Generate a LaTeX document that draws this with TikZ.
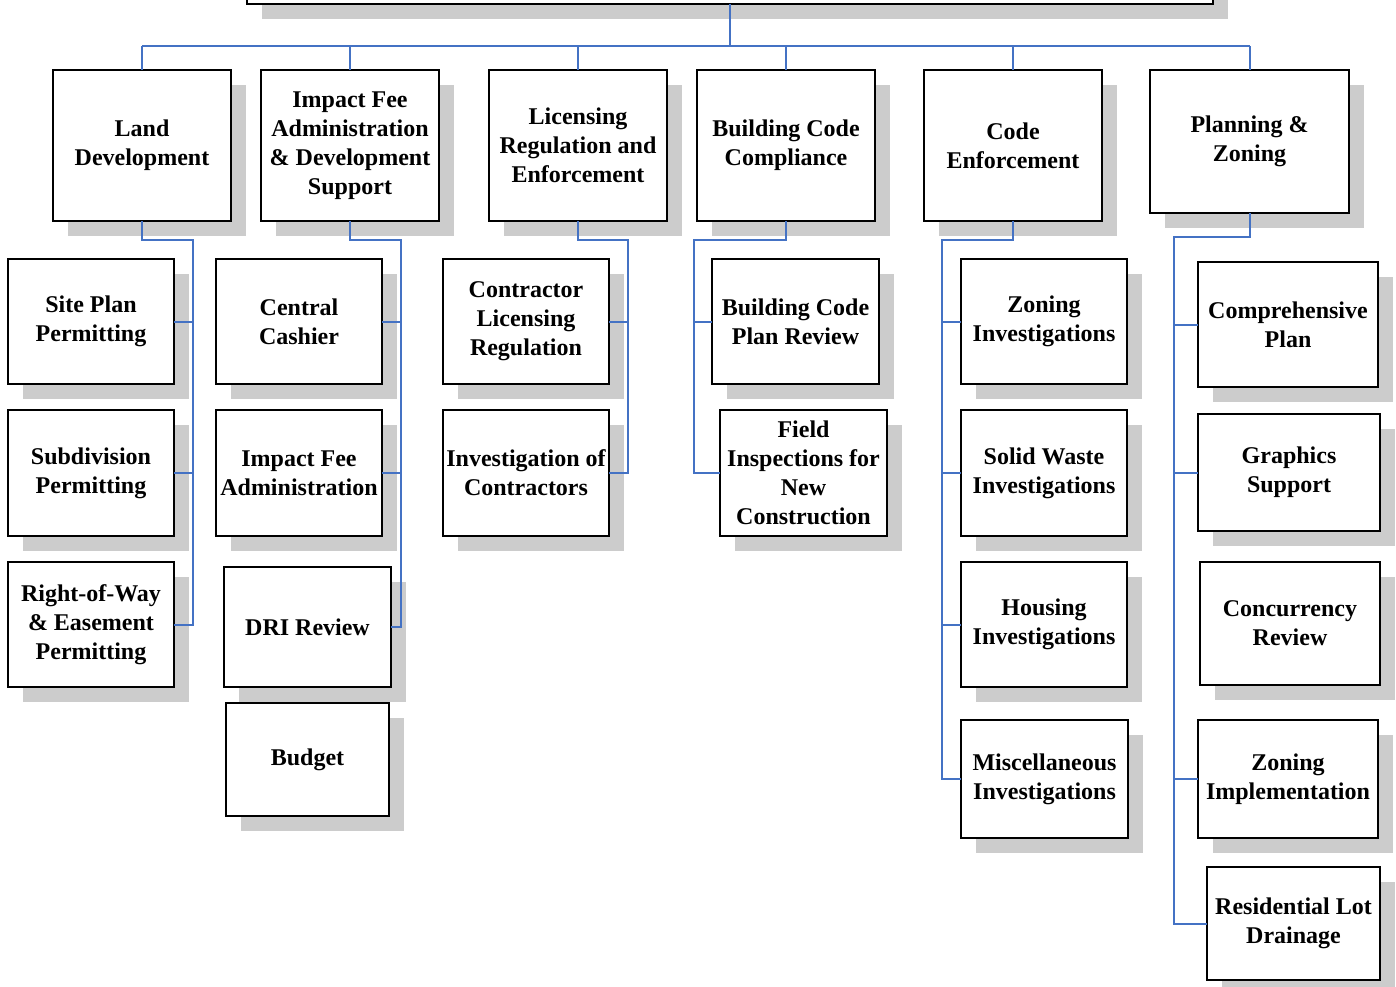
\documentclass[tikz,border=0pt]{standalone}
\usepackage{fontspec}
\setmainfont{Liberation Serif}
\usetikzlibrary{shadows}
\definecolor{linkblue}{HTML}{4472C4}
\definecolor{shadowgray}{HTML}{CCCCCC}
\begin{document}
\begin{tikzpicture}[x=1pt,y=-1pt,
  box/.style={draw=black, line width=1.8pt, fill=white, inner sep=0pt, outer sep=0pt,
    align=center, font=\fontsize{24}{29}\selectfont\bfseries,
    drop shadow={shadow xshift=15pt, shadow yshift=-15pt, fill=shadowgray, opacity=1}},
  link/.style={draw=linkblue, line width=2pt}]
\useasboundingbox (0,0) rectangle (1396,986);
\clip (0,0) rectangle (1396,986);
% top box
\node[box, minimum width=966pt, minimum height=64pt] (top) at (730,-28) {};
% level 1
\node[box, minimum width=178pt, minimum height=151pt] (ld)  at (142,145.5)  {Land\\Development};
\node[box, minimum width=178pt, minimum height=151pt] (ifa) at (350,145.5)  {Impact Fee\\Administration\\\& Development\\Support};
\node[box, minimum width=178pt, minimum height=151pt] (lre) at (578,145.5)  {Licensing\\Regulation and\\Enforcement};
\node[box, minimum width=178pt, minimum height=151pt] (bcc) at (786,145.5)  {Building Code\\Compliance};
\node[box, minimum width=178pt, minimum height=151pt] (ce)  at (1013,145.5) {Code\\Enforcement};
\node[box, minimum width=199pt, minimum height=143pt] (pz)  at (1249.5,141.5) {Planning \&\\Zoning};
% Land Development children
\node[box, minimum width=166pt, minimum height=125pt] (sp) at (91,321.5) {Site Plan\\Permitting};
\node[box, minimum width=166pt, minimum height=126pt] (sd) at (91,473) {Subdivision\\Permitting};
\node[box, minimum width=166pt, minimum height=125pt] (rw) at (91,624.5) {Right-of-Way\\\& Easement\\Permitting};
% Impact Fee children
\node[box, minimum width=166pt, minimum height=125pt] (cc)   at (299,321.5) {Central\\Cashier};
\node[box, minimum width=166pt, minimum height=126pt] (ifad) at (299,473) {Impact Fee\\Administration};
\node[box, minimum width=167pt, minimum height=120pt] (dri)  at (307.5,627) {DRI Review};
\node[box, minimum width=163pt, minimum height=113pt] (bud)  at (307.5,759.5) {Budget};
% Licensing children
\node[box, minimum width=166pt, minimum height=125pt] (cl) at (526,321.5) {Contractor\\Licensing\\Regulation};
\node[box, minimum width=166pt, minimum height=126pt] (ic) at (526,473) {Investigation of\\Contractors};
% Building Code children
\node[box, minimum width=167pt, minimum height=125pt] (bpr) at (795.5,321.5) {Building Code\\Plan Review};
\node[box, minimum width=167pt, minimum height=126pt] (fi)  at (803.5,473) {Field\\Inspections for\\New\\Construction};
% Code Enforcement children
\node[box, minimum width=166pt, minimum height=125pt] (zi) at (1044,321.5) {Zoning\\Investigations};
\node[box, minimum width=166pt, minimum height=126pt] (sw) at (1044,473) {Solid Waste\\Investigations};
\node[box, minimum width=166pt, minimum height=125pt] (hi) at (1044,624.5) {Housing\\Investigations};
\node[box, minimum width=167pt, minimum height=118pt] (mi) at (1044.5,779) {Miscellaneous\\Investigations};
% Planning children
\node[box, minimum width=180pt, minimum height=125pt] (cp)  at (1288,324.5) {Comprehensive\\Plan};
\node[box, minimum width=182pt, minimum height=117pt] (gs)  at (1289,472.5) {Graphics\\Support};
\node[box, minimum width=180pt, minimum height=123pt] (cr)  at (1290,623.5) {Concurrency\\Review};
\node[box, minimum width=180pt, minimum height=118pt] (zim) at (1288,779) {Zoning\\Implementation};
\node[box, minimum width=173pt, minimum height=113pt] (rl)  at (1293.5,923.5) {Residential Lot\\Drainage};
% top bus
\coordinate (bus) at (142,46);
\draw[link] (top.south) -- (top.south |- bus);
\draw[link] (ld.north |- bus) -- (pz.north |- bus);
\foreach \n in {ld,ifa,lre,bcc,ce,pz} {\draw[link] (\n.north) -- (\n.north |- bus);}
% Land Development
\coordinate (ldv) at (193,240);
\draw[link] (ld.south) |- (ldv) |- (rw.east);
\draw[link] (sp.east) -- (sp.east -| ldv);
\draw[link] (sd.east) -- (sd.east -| ldv);
% Impact Fee
\coordinate (ifav) at (401,240);
\draw[link] (ifa.south) |- (ifav) |- (dri.east);
\draw[link] (cc.east) -- (cc.east -| ifav);
\draw[link] (ifad.east) -- (ifad.east -| ifav);
% Licensing
\coordinate (lrev) at (628,240);
\draw[link] (lre.south) |- (lrev) |- (ic.east);
\draw[link] (cl.east) -- (cl.east -| lrev);
% Building Code
\coordinate (bccv) at (694,240);
\draw[link] (bcc.south) |- (bccv) |- (fi.west);
\draw[link] (bpr.west) -- (bpr.west -| bccv);
% Code Enforcement
\coordinate (cev) at (942,240);
\draw[link] (ce.south) |- (cev) |- (mi.west);
\draw[link] (zi.west) -- (zi.west -| cev);
\draw[link] (sw.west) -- (sw.west -| cev);
\draw[link] (hi.west) -- (hi.west -| cev);
% Planning
\coordinate (pzv) at (1174,237);
\draw[link] (pz.south) |- (pzv) |- (rl.west);
\draw[link] (cp.west) -- (cp.west -| pzv);
\draw[link] (gs.west) -- (gs.west -| pzv);
\draw[link] (zim.west) -- (zim.west -| pzv);
\end{tikzpicture}
\end{document}
